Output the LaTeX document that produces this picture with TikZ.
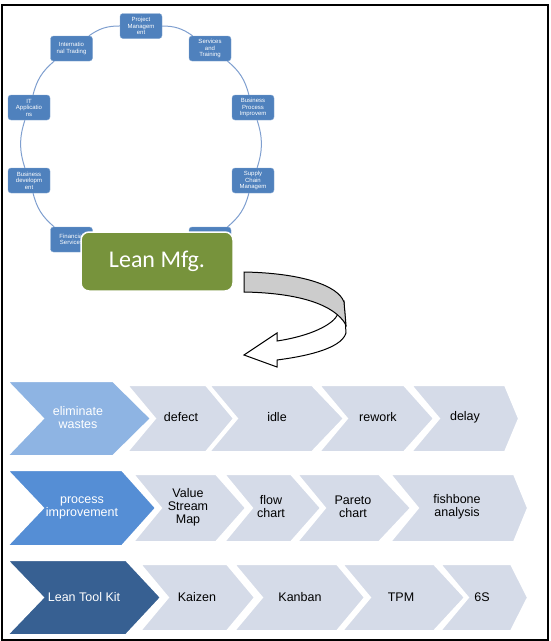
\documentclass[tikz,border=0pt]{standalone}
\usepackage{fontspec}
\setmainfont{Liberation Sans}
\newfontfamily\leanfont{Carlito}
\usepackage{tikz}
\usetikzlibrary{arrows.meta}

\definecolor{cycleblue}{HTML}{4F81BD}
\definecolor{cycleline}{HTML}{7F9FCF}
\definecolor{leangreen}{HTML}{77933C}
\definecolor{chevpale}{HTML}{D5DBE8}
\definecolor{chevone}{HTML}{8EB4E3}
\definecolor{chevtwo}{HTML}{558ED5}
\definecolor{chevthree}{HTML}{376092}

% style, left, notch depth, shoulder, tip, top, bottom
\newcommand{\chevron}[7]{%
	\filldraw[#1] (#2,#6) -- (#4,#6) -- (#5,{(#6+#7)/2}) -- (#4,#7) -- (#2,#7)
		-- ({#2+#3},{(#6+#7)/2}) -- cycle;}

\begin{document}
\begin{tikzpicture}[x=1pt,y=-1pt,
	pale/.style={fill=chevpale, draw=white, line width=2pt},
	dark/.style={draw=white, line width=2pt}]
	\useasboundingbox (0,0) rectangle (550,641);
	\draw[line width=1.5pt] (2,5) rectangle (548,640);

	% ring of services
	\begin{scope}[every node/.style = {rounded corners=3pt, fill=cycleblue,
			draw=cycleblue!70!white, minimum width=42pt, minimum height=25pt,
			inner sep=1pt, align=center, text=white,
			font=\fontsize{6}{6.5}\selectfont}]
		\node (pm) at (141,26) {Project\\Managem\\ent};
		\node (st) at (210,48.5) {Services\\and\\Training};
		\node (bpi) at (253,107.5) {Business\\Process\\Improvem};
		\node (scm) at (253,180.5) {Supply\\Chain\\Managem};
		\node (hid) at (210,239.5) {};
		\node (fs) at (71.5,239.5) {Financial\\Services};
		\node (bd) at (29,180.5) {Business\\developm\\ent};
		\node (ita) at (29,107.5) {IT\\Applicatio\\ns};
		\node (intl) at (71.5,48.5) {Internatio\\nal Trading};
	\end{scope}
	\begin{scope}[every edge/.style={draw=cycleline, line width=1pt}]
		\path (pm) edge[bend left=18] (st);
		\path (st) edge[bend left=18] (bpi);
		\path (bpi) edge[bend left=18] (scm);
		\path (scm) edge[bend left=18] (hid);
		\path (fs) edge[bend left=18] (bd);
		\path (bd) edge[bend left=18] (ita);
		\path (ita) edge[bend left=18] (intl);
		\path (intl) edge[bend left=18] (pm);
	\end{scope}

	\node (lean) [rounded corners=8pt, fill=leangreen, draw=white, line width=1.5pt,
		minimum width=152pt, minimum height=59pt, text=white,
		font=\leanfont\fontsize{24}{28}\selectfont] at (157,261.5) {Lean Mfg.};

	% curved arrow
	\filldraw[fill=white, draw=black, line width=1pt] (344,302) -- (346,333)
		.. controls (341,350) and (300,357) .. (277,360) -- (277,367) -- (244,355)
		-- (277,333) -- (277,341) .. controls (310,336) and (333,325) .. (338,314) -- cycle;
	\filldraw[fill=black!20, draw=black, line width=1pt] (244,272)
		.. controls (300,273) and (338,285) .. (344,302) -- (346,325)
		.. controls (335,305) and (300,293) .. (244,292) -- cycle;

	% row 1
	\chevron{pale}{127}{28}{206}{234}{385}{452}
	\chevron{pale}{209}{28}{312}{344}{385}{452}
	\chevron{pale}{319}{28}{404}{434}{385}{452}
	\chevron{pale}{411}{28}{505}{519}{385}{452}
	\chevron{dark, fill=chevone}{7}{36}{113}{151}{381}{456}
	% row 2
	\chevron{pale}{133}{28}{216}{246}{474}{542}
	\chevron{pale}{224}{28}{291}{321}{474}{542}
	\chevron{pale}{297}{28}{379}{411}{474}{542}
	\chevron{pale}{390}{28}{514}{528}{474}{542}
	\chevron{dark, fill=chevtwo}{7}{36}{122}{156}{470}{546}
	% row 3
	\chevron{pale}{140}{28}{227}{255}{564}{631}
	\chevron{pale}{234}{28}{337}{365}{564}{631}
	\chevron{pale}{342}{28}{434}{465}{564}{631}
	\chevron{pale}{440}{28}{511}{528}{564}{631}
	\chevron{dark, fill=chevthree}{7}{36}{126}{161}{560}{635}

	\begin{scope}[every node/.style={align=center, font=\fontsize{12.5}{13}\selectfont}]
		\node[text=white] (waste) at (78,418) {eliminate\\wastes};
		\node (defect) at (181,417) {defect};
		\node (idle) at (277,417) {idle};
		\node (rework) at (378,417) {rework};
		\node (delay) at (465,417) {delay};
		\node[text=white] (procimp) at (82,508) {process\\improvement};
		\node (vsm) at (188,507) {Value\\Stream\\Map};
		\node (flow) at (271,507) {flow\\chart};
		\node (pareto) at (353,507) {Pareto\\chart};
		\node (fish) at (457,507) {fishbone\\analysis};
		\node[text=white] (toolkit) at (84,597) {Lean Tool Kit};
		\node (kaizen) at (197,597) {Kaizen};
		\node (kanban) at (300,597) {Kanban};
		\node (tpm) at (401,597) {TPM};
		\node (six) at (482,597) {6S};
	\end{scope}
\end{tikzpicture}
\end{document}
